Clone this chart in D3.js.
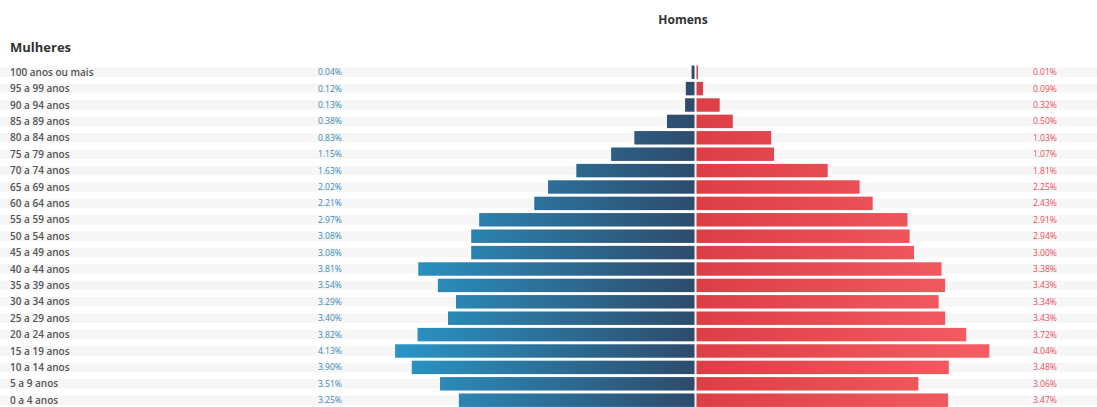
<!DOCTYPE html>
<html>
<head>
<meta charset="utf-8">
<script src="https://cdn.jsdelivr.net/npm/d3@7"></script>
<style>
  body { margin: 0; background: #fff; overflow: hidden; }
  text { font-family: "Open Sans", "Noto Sans", sans-serif; }
</style>
</head>
<body>
<script>
// faixas etárias e percentuais
var ages = ["100 anos ou mais", "95 a 99 anos", "90 a 94 anos", "85 a 89 anos", "80 a 84 anos",
    "75 a 79 anos", "70 a 74 anos", "65 a 69 anos", "60 a 64 anos", "55 a 59 anos", "50 a 54 anos",
    "45 a 49 anos", "40 a 44 anos", "35 a 39 anos", "30 a 34 anos", "25 a 29 anos", "20 a 24 anos",
    "15 a 19 anos", "10 a 14 anos", "5 a 9 anos", "0 a 4 anos"]
var mulheres = [0.04, 0.12, 0.13, 0.38, 0.83, 1.15, 1.63, 2.02, 2.21, 2.97, 3.08,
    3.08, 3.81, 3.54, 3.29, 3.40, 3.82, 4.13, 3.90, 3.51, 3.25]
var homens = [0.01, 0.09, 0.32, 0.50, 1.03, 1.07, 1.81, 2.25, 2.43, 2.91, 2.94,
    3.00, 3.38, 3.43, 3.34, 3.43, 3.72, 4.04, 3.48, 3.06, 3.47]

var W = 1097, H = 407
var cx = 695.5

var svg = d3.select("body").append("svg")
    .attr("width", W)
    .attr("height", H)

var defs = svg.append("defs")
var gl = defs.append("linearGradient").attr("id", "gl")
    .attr("gradientUnits", "userSpaceOnUse")
    .attr("x1", cx).attr("x2", cx - 300).attr("y1", 0).attr("y2", 0)
gl.append("stop").attr("offset", "0%").attr("stop-color", "#2e4b6b")
gl.append("stop").attr("offset", "100%").attr("stop-color", "#2a95c6")
var gr = defs.append("linearGradient").attr("id", "gr")
    .attr("gradientUnits", "userSpaceOnUse")
    .attr("x1", cx).attr("x2", cx + 300).attr("y1", 0).attr("y2", 0)
gr.append("stop").attr("offset", "0%").attr("stop-color", "#dc3e46")
gr.append("stop").attr("offset", "100%").attr("stop-color", "#f65e64")

var y = d3.scaleBand()
    .domain(ages)
    .range([64, 64 + ages.length * 16.4])
    .paddingInner(0.18)
    .paddingOuter(0.09)

var x = d3.scaleLinear()
    .domain([0, 4.5])
    .range([0, 4.5 * 72.5])

// faint row bands
svg.append("g").selectAll("rect")
    .data(ages)
    .enter().append("rect")
    .attr("x", 0)
    .attr("width", W)
    .attr("y", function (d) { return y(d) + 2 })
    .attr("height", y.bandwidth() - 4)
    .attr("fill", "#f6f6f6")

svg.append("text")
    .text("Mulheres")
    .attr("x", 10)
    .attr("y", 52)
    .attr("font-size", 13)
    .attr("font-weight", 700)
    .attr("fill", "#333")

svg.append("text")
    .text("Homens")
    .attr("x", 683)
    .attr("y", 24)
    .attr("text-anchor", "middle")
    .attr("font-size", 12)
    .attr("font-weight", 700)
    .attr("fill", "#333")

// bars
svg.append("g").selectAll("rect")
    .data(mulheres)
    .enter().append("rect")
    .attr("x", function (d) { return cx - 1 - x(d) })
    .attr("width", function (d) { return x(d) })
    .attr("y", function (d, i) { return y(ages[i]) })
    .attr("height", y.bandwidth())
    .attr("fill", "url(#gl)")

svg.append("g").selectAll("rect")
    .data(homens)
    .enter().append("rect")
    .attr("x", cx + 1)
    .attr("width", function (d) { return Math.max(x(d), 1.5) })
    .attr("y", function (d, i) { return y(ages[i]) })
    .attr("height", y.bandwidth())
    .attr("fill", "url(#gr)")

// labels
var fmt = function (v) { return v.toFixed(2) + "%" }
svg.append("g").selectAll("text")
    .data(ages)
    .enter().append("text")
    .text(function (d) { return d })
    .attr("x", 10)
    .attr("y", function (d) { return y(d) + y.bandwidth() / 2 + 3.5 })
    .attr("font-size", 10)
    .attr("font-weight", 600)
    .attr("fill", "#555")

svg.append("g").selectAll("text")
    .data(mulheres)
    .enter().append("text")
    .text(fmt)
    .attr("x", 318)
    .attr("y", function (d, i) { return y(ages[i]) + y.bandwidth() / 2 + 3 })
    .attr("font-size", 8.5)
    .attr("fill", "#3a8bb4")

svg.append("g").selectAll("text")
    .data(homens)
    .enter().append("text")
    .text(fmt)
    .attr("x", 1033)
    .attr("y", function (d, i) { return y(ages[i]) + y.bandwidth() / 2 + 3 })
    .attr("font-size", 8.5)
    .attr("fill", "#e6505c")
</script>
</body>
</html>
